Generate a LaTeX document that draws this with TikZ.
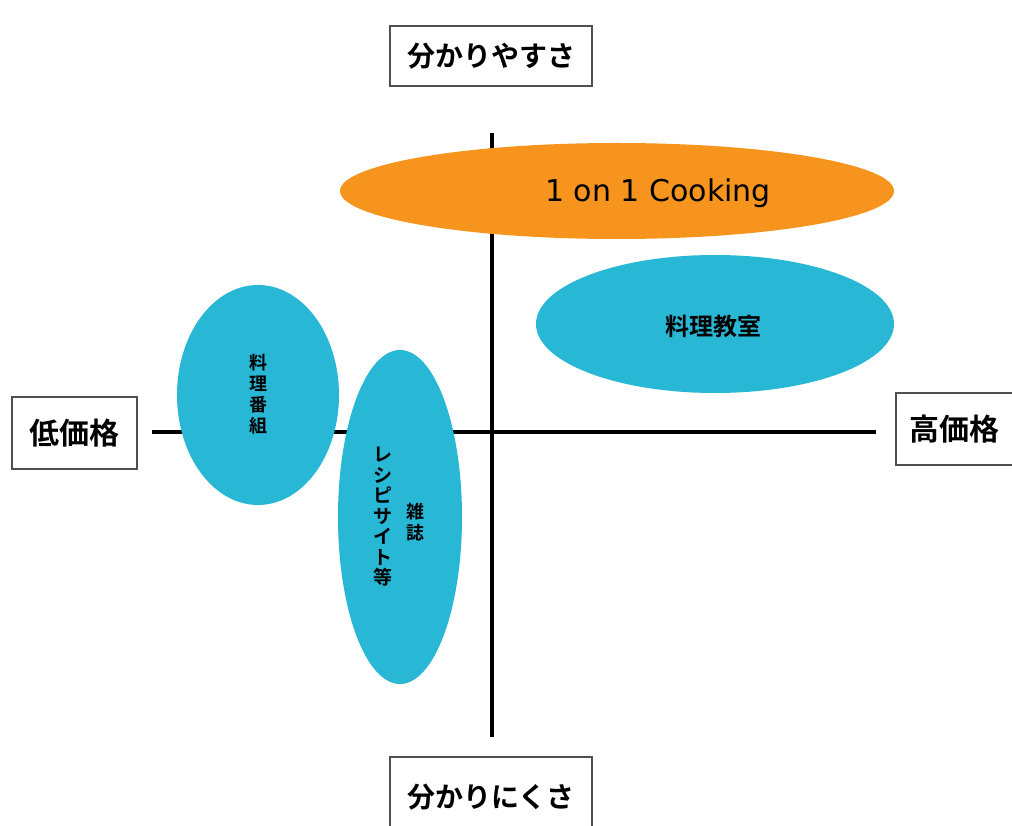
\documentclass[tikz,border=0pt]{standalone}
\usepackage{fontspec}
\newfontfamily\jp[BoldFont={Noto Sans CJK JP Bold}]{Noto Sans CJK JP}
\newfontfamily\lat{DejaVu Sans}
\definecolor{cyanfill}{RGB}{40,183,212}
\definecolor{orangefill}{RGB}{247,148,29}
\definecolor{boxline}{RGB}{80,80,80}
\begin{document}
\begin{tikzpicture}[x=1pt,y=-1pt,
  axis/.style={line width=4pt,black},
  labelbox/.style={draw=boxline,line width=1.6pt,fill=white,inner sep=0pt,font=\jp\bfseries},
  vtext/.style={align=center,inner sep=0pt}
]
\useasboundingbox (0,0) rectangle (1012,826);
\fill[white] (0,0) rectangle (1012,826);
% axes
\coordinate (L) at (152,432);
\coordinate (R) at (876,432);
\coordinate (T) at (492,133);
\coordinate (B) at (492,737);
\draw[axis] (L) -- (R);
\draw[axis] (T) -- (B);
% blobs
\fill[orangefill] (617,191) ellipse [x radius=277, y radius=48];
\node (cook) at (658,193) {\lat\fontsize{30}{32}\selectfont 1 on 1 Cooking};
\fill[cyanfill] (715,324) ellipse [x radius=179, y radius=69];
\node[font=\jp\bfseries\fontsize{24}{26}\selectfont] (kyoshitsu) at (713,326) {料理教室};
\fill[cyanfill] (258,395) ellipse [x radius=81, y radius=110];
\node[vtext,font=\jp\bfseries\fontsize{18}{21}\selectfont] (bangumi) at (258,394) {料\\理\\番\\組};
\fill[cyanfill] (400,517) ellipse [x radius=62, y radius=167];
\node[vtext,font=\jp\bfseries\fontsize{19}{20.5}\selectfont] (recipe) at (383,517) {レ\\シ\\ピ\\サ\\イ\\ト\\等};
\node[vtext,font=\jp\bfseries\fontsize{18}{21}\selectfont] (zasshi) at (415,522) {雑\\誌};
% label boxes
\node[labelbox,minimum width=202pt,minimum height=60pt] (easy) at (491,56) {\fontsize{28}{30}\selectfont 分かりやすさ};
\node[labelbox,minimum width=202pt,minimum height=80pt] (hard) at (491,797) {\fontsize{28}{30}\selectfont\raisebox{-3pt}{分かりにくさ}};
\node[labelbox,minimum width=125pt,minimum height=72pt] (low) at (74.5,433) {\fontsize{30}{32}\selectfont 低価格};
\node[labelbox,minimum width=140pt,minimum height=72pt,anchor=west] (high) at (895,429) {\fontsize{30}{32}\selectfont\hspace{-22pt}高価格};
\end{tikzpicture}
\end{document}
